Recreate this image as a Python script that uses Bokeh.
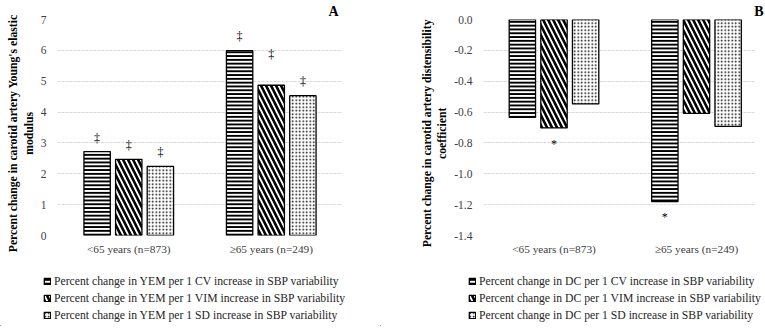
import math
from bokeh.plotting import figure
from bokeh.layouts import row, column
from bokeh.models import (ColumnDataSource, FixedTicker, NumeralTickFormatter,
                          Legend, LegendItem, Range1d)
from bokeh.transform import dodge
from bokeh.core.properties import value
from bokeh.embed import file_html
from bokeh.resources import INLINE

# ---------------- data ----------------
groups = ["<65 years (n=873)", "\u226565 years (n=249)"]

yem_cv = [2.72, 5.99]
yem_vim = [2.47, 4.87]
yem_sd = [2.24, 4.53]
yem_cv_mark = ["\u2021", "\u2021"]
yem_vim_mark = ["\u2021", "\u2021"]
yem_sd_mark = ["\u2021", "\u2021"]
yem_cv_mark_y = [3.17, 6.45]
yem_vim_mark_y = [2.94, 5.88]
yem_sd_mark_y = [2.72, 5.00]

dc_cv = [-0.634, -1.18]
dc_vim = [-0.703, -0.608]
dc_sd = [-0.547, -0.693]
dc_cv_mark = ["", "*"]
dc_vim_mark = ["*", ""]
dc_sd_mark = ["", ""]
dc_cv_mark_y = [-0.70, -1.28]
dc_vim_mark_y = [-0.805, -0.68]
dc_sd_mark_y = [-0.60, -0.75]

yem_ticks = [0, 1, 2, 3, 4, 5, 6, 7]
dc_ticks = [0.0, -0.2, -0.4, -0.6, -0.8, -1.0, -1.2, -1.4]

yem_legend = ["Percent change in YEM per 1 CV increase in SBP variability",
              "Percent change in YEM per 1 VIM increase in SBP variability",
              "Percent change in YEM per 1 SD increase in SBP variability"]
dc_legend = ["Percent change in DC per 1 CV increase in SBP variability",
             "Percent change in DC per 1 VIM increase in SBP variability",
             "Percent change in DC per 1 SD increase in SBP variability"]

yem_ylabel = ["Percent change in carotid artery Young's elastic", "modulus"]
dc_ylabel = ["Percent change in carotid artery distensibility", "coefficient"]

# ---------------- style ----------------
FONT = "Liberation Serif"
H = 260
LEG_H = 66
FRAME_TOP = 19
FRAME_H = 216
SHIFT = "\u00a0" * 4   # nudges the centred axis title a little downwards
pos = [i + 1 for i in range(len(groups))]
hatches = [("horizontal_line", 3.8, 2.0),
           ("left_diagonal_line", 10.0, 2.6),
           ("dot", 3.5, 1.0)]
offsets = [-0.222, 0.0, 0.222]
BW = 0.185


def bar_style(hp, hs, hw):
    return dict(fill_color="white", line_color="black", line_width=1.3,
                hatch_pattern=hp, hatch_color="black", hatch_scale=hs, hatch_weight=hw)


def panel(width, left, frame_w, x_range, y_range, ticks, fmt, series, marks, marks_y,
          ylabel, letter, letter_offset, ylab_standoff):
    p = figure(width=width, height=H, x_range=x_range, y_range=y_range,
               output_backend="svg", toolbar_location=None,
               min_border_left=left, min_border_right=width - left - frame_w,
               min_border_top=FRAME_TOP, min_border_bottom=H - FRAME_TOP - FRAME_H)
    p.outline_line_color = None
    p.background_fill_color = "white"
    p.border_fill_color = "white"

    # panel letter as the title, right aligned
    p.title.text = letter
    p.title.align = "right"
    p.title.text_font = FONT
    p.title.text_font_style = "bold"
    p.title.text_font_size = "14px"
    p.title.text_color = "black"
    p.title.standoff = 1
    p.title.offset = letter_offset

    for vals, hstyle, off in zip(series, hatches, offsets):
        src = ColumnDataSource(dict(x=pos, top=vals))
        p.vbar(x=dodge("x", off), top="top", bottom=0, width=BW, source=src,
               **bar_style(*hstyle))
    for mk, my, off in zip(marks, marks_y, offsets):
        src = ColumnDataSource(dict(x=pos, y=my, t=mk))
        p.text(x=dodge("x", off), y="y", text="t", source=src,
               text_font=value(FONT), text_font_size="12px", text_color="black",
               text_align="center", text_baseline="middle")

    p.yaxis.ticker = FixedTicker(ticks=ticks)
    p.yaxis.formatter = NumeralTickFormatter(format=fmt)
    p.ygrid.ticker = FixedTicker(ticks=ticks)
    p.ygrid.grid_line_color = "#d9d9d9"
    p.ygrid.grid_line_dash = "3 1"
    p.xgrid.visible = False
    for ax in (p.xaxis[0], p.yaxis[0]):
        ax.axis_line_color = None
        ax.major_tick_line_color = None
        ax.minor_tick_line_color = None
        ax.major_tick_out = 0
        ax.major_tick_in = 0
        ax.major_label_text_font = FONT
        ax.major_label_text_color = "#404040"
    p.yaxis.major_label_text_font_size = "11.5px"
    p.xaxis.major_label_text_font_size = "11.3px"
    p.yaxis.major_label_standoff = 11
    p.xaxis.major_label_standoff = 7
    p.xaxis.ticker = FixedTicker(ticks=pos)
    p.xaxis.major_label_overrides = {k: g for k, g in zip(pos, groups)}

    p.yaxis.axis_label = "\n".join(line + SHIFT for line in ylabel)
    p.yaxis.axis_label_text_font = FONT
    p.yaxis.axis_label_text_font_style = "bold"
    p.yaxis.axis_label_text_font_size = "11.7px"
    p.yaxis.axis_label_text_color = "black"
    p.yaxis.axis_label_standoff = ylab_standoff
    return p


def legend_panel(width, labels, series, legend_x):
    q = figure(width=width, height=LEG_H, x_range=Range1d(10, 11), y_range=Range1d(10, 11),
               output_backend="svg", toolbar_location=None, min_border=0)
    q.axis.visible = False
    q.grid.visible = False
    q.outline_line_color = None
    rs = []
    for vals, hstyle in zip(series, hatches):
        src = ColumnDataSource(dict(x=pos, top=vals))
        rs.append(q.vbar(x="x", top="top", bottom=0, width=BW, source=src,
                         **bar_style(*hstyle)))
    legend = Legend(items=[LegendItem(label=lab, renderers=[r]) for lab, r in zip(labels, rs)],
                    location=(legend_x, 4), orientation="vertical",
                    glyph_width=8, glyph_height=8, label_height=14, spacing=3,
                    padding=0, margin=0, border_line_color=None, background_fill_alpha=0,
                    label_text_font=FONT, label_text_font_size="11.7px",
                    label_text_color="#262626", label_standoff=3)
    q.add_layout(legend)
    return q


# A: frame 57..342, 142.5 px per group
pA = panel(380, 57, 285, Range1d(0.5, 2.5), Range1d(0, 7), yem_ticks, "0",
           [yem_cv, yem_vim, yem_sd], [yem_cv_mark, yem_vim_mark, yem_sd_mark],
           [yem_cv_mark_y, yem_vim_mark_y, yem_sd_mark_y], yem_ylabel, "A", 4, 2)

# B: frame 483..755, 142.5 px per group
pB = panel(385, 103, 272, Range1d(0.5053, 0.5053 + 272 / 142.5),
           Range1d(-1.4, 0), dc_ticks, "0.0",
           [dc_cv, dc_vim, dc_sd], [dc_cv_mark, dc_vim_mark, dc_sd_mark],
           [dc_cv_mark_y, dc_vim_mark_y, dc_sd_mark_y], dc_ylabel, "B", -8, 2)

lA = legend_panel(380, yem_legend, [yem_cv, yem_vim, yem_sd], 43)
lB = legend_panel(385, dc_legend, [dc_cv, dc_vim, dc_sd], 88)

layout = column(row(pA, pB), row(lA, lB))
open("out.html", "w").write(file_html(layout, INLINE))
